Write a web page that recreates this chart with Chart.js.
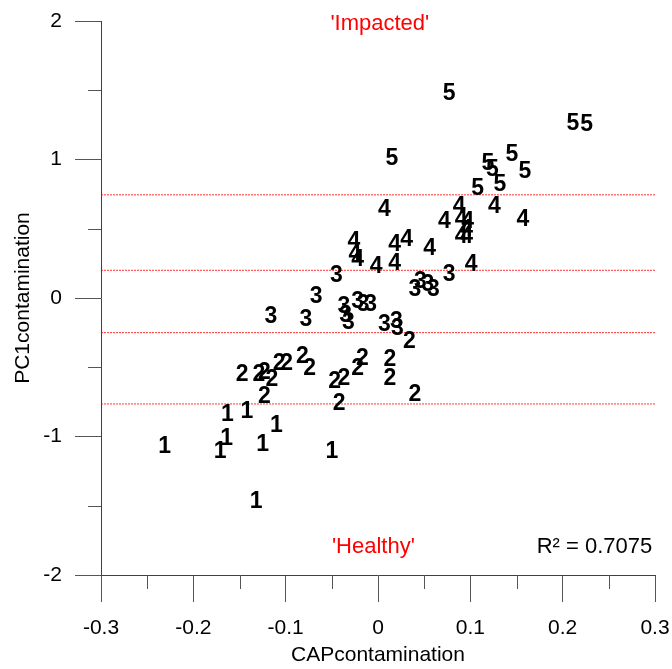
<!DOCTYPE html>
<html>
<head>
<meta charset="utf-8">
<script src="https://cdn.jsdelivr.net/npm/chart.js@4"></script>
<style>
  html, body { margin: 0; padding: 0; background: #fff; }
  #wrap { width: 672px; height: 669px; }
</style>
</head>
<body>
<div id="wrap"><canvas id="myChart"></canvas></div>
<script>
// group labels drawn as the marker
const groups = ["1", "2", "3", "4", "5"];

const group1X = [-0.231, -0.171, -0.164, -0.163, -0.142, -0.125, -0.110, -0.050, -0.132];
const group1Y = [-1.061, -1.097, -1.004, -0.830, -0.809, -1.047, -0.910, -1.097, -1.458];

const group2X = [-0.147, -0.129, -0.123, -0.115, -0.107, -0.099, -0.082, -0.074, -0.123, -0.047, -0.037, -0.042, -0.022, -0.017, 0.013, 0.013, 0.034, 0.040];
const group2Y = [-0.542, -0.542, -0.527, -0.578, -0.462, -0.462, -0.412, -0.498, -0.700, -0.592, -0.570, -0.751, -0.498, -0.426, -0.433, -0.570, -0.303, -0.686];

const group3X = [-0.116, -0.078, -0.067, -0.045, -0.037, -0.035, -0.032, -0.022, -0.016, -0.008, 0.007, 0.020, 0.021, 0.040, 0.046, 0.054, 0.060, 0.077];
const group3Y = [-0.123, -0.144, 0.022, 0.173, -0.051, -0.116, -0.166, -0.014, -0.036, -0.036, -0.181, -0.159, -0.209, 0.072, 0.130, 0.108, 0.072, 0.181];

const group4X = [0.007, -0.026, -0.025, -0.022, -0.002, 0.018, 0.031, 0.018, 0.056, 0.072, 0.088, 0.090, 0.097, 0.096, 0.090, 0.096, 0.126, 0.157, 0.101];
const group4Y = [0.650, 0.419, 0.325, 0.289, 0.238, 0.397, 0.433, 0.260, 0.368, 0.563, 0.671, 0.578, 0.563, 0.505, 0.455, 0.455, 0.671, 0.578, 0.253];

const group5X = [0.077, 0.015, 0.211, 0.226, 0.145, 0.119, 0.124, 0.159, 0.108, 0.132];
const group5Y = [1.487, 1.018, 1.271, 1.264, 1.047, 0.982, 0.939, 0.924, 0.801, 0.830];

const groupX = [group1X, group2X, group3X, group4X, group5X];
const groupY = [group1Y, group2Y, group3Y, group4Y, group5Y];

// dotted red threshold lines
const cutoffs = [0.745, 0.2, -0.25, -0.765];

const xRange = [-0.3, 0.3];
const yRange = [-2, 2];
const r2Text = "R\u00B2 = 0.7075";

const FONT = "'Liberation Sans', Arial, sans-serif";
const DIGIT_SIZE = 23;

function isMajor(v, step) {
  return Math.abs(v / step - Math.round(v / step)) < 1e-6;
}

const datasets = [];

cutoffs.forEach(function (v) {
  datasets.push({
    data: [{ x: xRange[0], y: v }, { x: xRange[1], y: v }],
    showLine: true,
    borderColor: "rgba(255,0,0,0.8)",
    borderWidth: 1,
    borderDash: [2, 1],
    pointRadius: 0,
  });
});

groups.forEach(function (g, i) {
  datasets.push({
    label: g,
    data: groupX[i].map((x, j) => ({ x: x, y: groupY[i][j] })),
    pointRadius: 0,
    digit: true,
  });
});

// draws each group's number at the point position the scales give
const digitLabels = {
  id: "digitLabels",
  afterDatasetsDraw(chart) {
    const c = chart.ctx;
    c.save();
    c.font = "bold " + DIGIT_SIZE + "px " + FONT;
    c.fillStyle = "#000";
    c.textAlign = "center";
    c.textBaseline = "alphabetic";
    chart.data.datasets.forEach(function (ds, i) {
      if (!ds.digit) return;
      chart.getDatasetMeta(i).data.forEach(function (pt) {
        c.fillText(ds.label, pt.x, pt.y + DIGIT_SIZE * 0.358);
      });
    });
    c.restore();
  },
};

const extras = {
  id: "extras",
  afterDraw(chart) {
    const c = chart.ctx;
    const xs = chart.scales.x;
    const ys = chart.scales.y;
    c.save();
    // minor ticks
    c.strokeStyle = "#555";
    c.lineWidth = 1;
    c.beginPath();
    xs.ticks.forEach(function (t) {
      if (!isMajor(t.value, 0.1)) {
        const px = Math.round(xs.getPixelForValue(t.value)) + 0.5;
        c.moveTo(px, xs.top);
        c.lineTo(px, xs.top + 14);
      }
    });
    ys.ticks.forEach(function (t) {
      if (!isMajor(t.value, 1)) {
        const py = Math.round(ys.getPixelForValue(t.value)) + 0.5;
        c.moveTo(ys.right, py);
        c.lineTo(ys.right - 13, py);
      }
    });
    c.stroke();

    // annotations
    c.font = "22px " + FONT;
    c.textBaseline = "middle";
    c.fillStyle = "#ff0000";
    c.textAlign = "center";
    c.fillText("'Impacted'", xs.getPixelForValue(0.002), ys.getPixelForValue(1.98));
    c.fillText("'Healthy'", xs.getPixelForValue(-0.005), ys.getPixelForValue(-1.8));
    c.fillStyle = "#000";
    c.textAlign = "right";
    c.fillText(r2Text, xs.getPixelForValue(0.297), ys.getPixelForValue(-1.8));
    c.restore();
  },
};

const ctx = document.getElementById("myChart");

new Chart(ctx, {
  type: "scatter",
  data: { datasets: datasets },
  options: {
    responsive: true,
    maintainAspectRatio: false,
    animation: false,
    events: [],
    layout: { padding: { top: 21, right: 17, left: 0, bottom: 0 } },
    plugins: {
      legend: { display: false },
      tooltip: { enabled: false },
    },
    scales: {
      x: {
        type: "linear",
        min: xRange[0],
        max: xRange[1],
        afterFit: (s) => {
          s.height = 94;
          s.paddingLeft = 0;
          s.paddingRight = 0;
        },
        border: { display: true, color: "#404040", width: 1 },
        grid: {
          drawOnChartArea: false,
          drawTicks: true,
          tickLength: 27,
          tickColor: (c) => (c.tick && isMajor(c.tick.value, 0.1) ? "#555" : "rgba(0,0,0,0)"),
        },
        ticks: {
          stepSize: 0.05,
          autoSkip: false,
          maxRotation: 0,
          padding: 14,
          color: "#000",
          font: { family: FONT, size: 21 },
          callback: (v) => (isMajor(v, 0.1) ? String(Math.round(v * 10) / 10) : ""),
        },
        title: {
          display: true,
          text: "CAPcontamination",
          color: "#000",
          font: { family: FONT, size: 21 },
          padding: { top: 0, bottom: 1 },
        },
      },
      y: {
        type: "linear",
        min: yRange[0],
        max: yRange[1],
        afterFit: (s) => {
          s.width = 101;
          s.paddingTop = 0;
          s.paddingBottom = 0;
        },
        border: { display: true, color: "#404040", width: 1 },
        grid: {
          drawOnChartArea: false,
          drawTicks: true,
          tickLength: 26,
          tickColor: (c) => (c.tick && isMajor(c.tick.value, 1) ? "#555" : "rgba(0,0,0,0)"),
        },
        ticks: {
          stepSize: 0.5,
          autoSkip: false,
          padding: 13,
          color: "#000",
          font: { family: FONT, size: 21 },
          callback: (v) => (isMajor(v, 1) ? String(Math.round(v)) : ""),
        },
        title: {
          display: true,
          text: "PC1contamination",
          color: "#000",
          font: { family: FONT, size: 21 },
          padding: { top: 11, bottom: 0 },
        },
      },
    },
  },
  plugins: [digitLabels, extras],
});
</script>
</body>
</html>
